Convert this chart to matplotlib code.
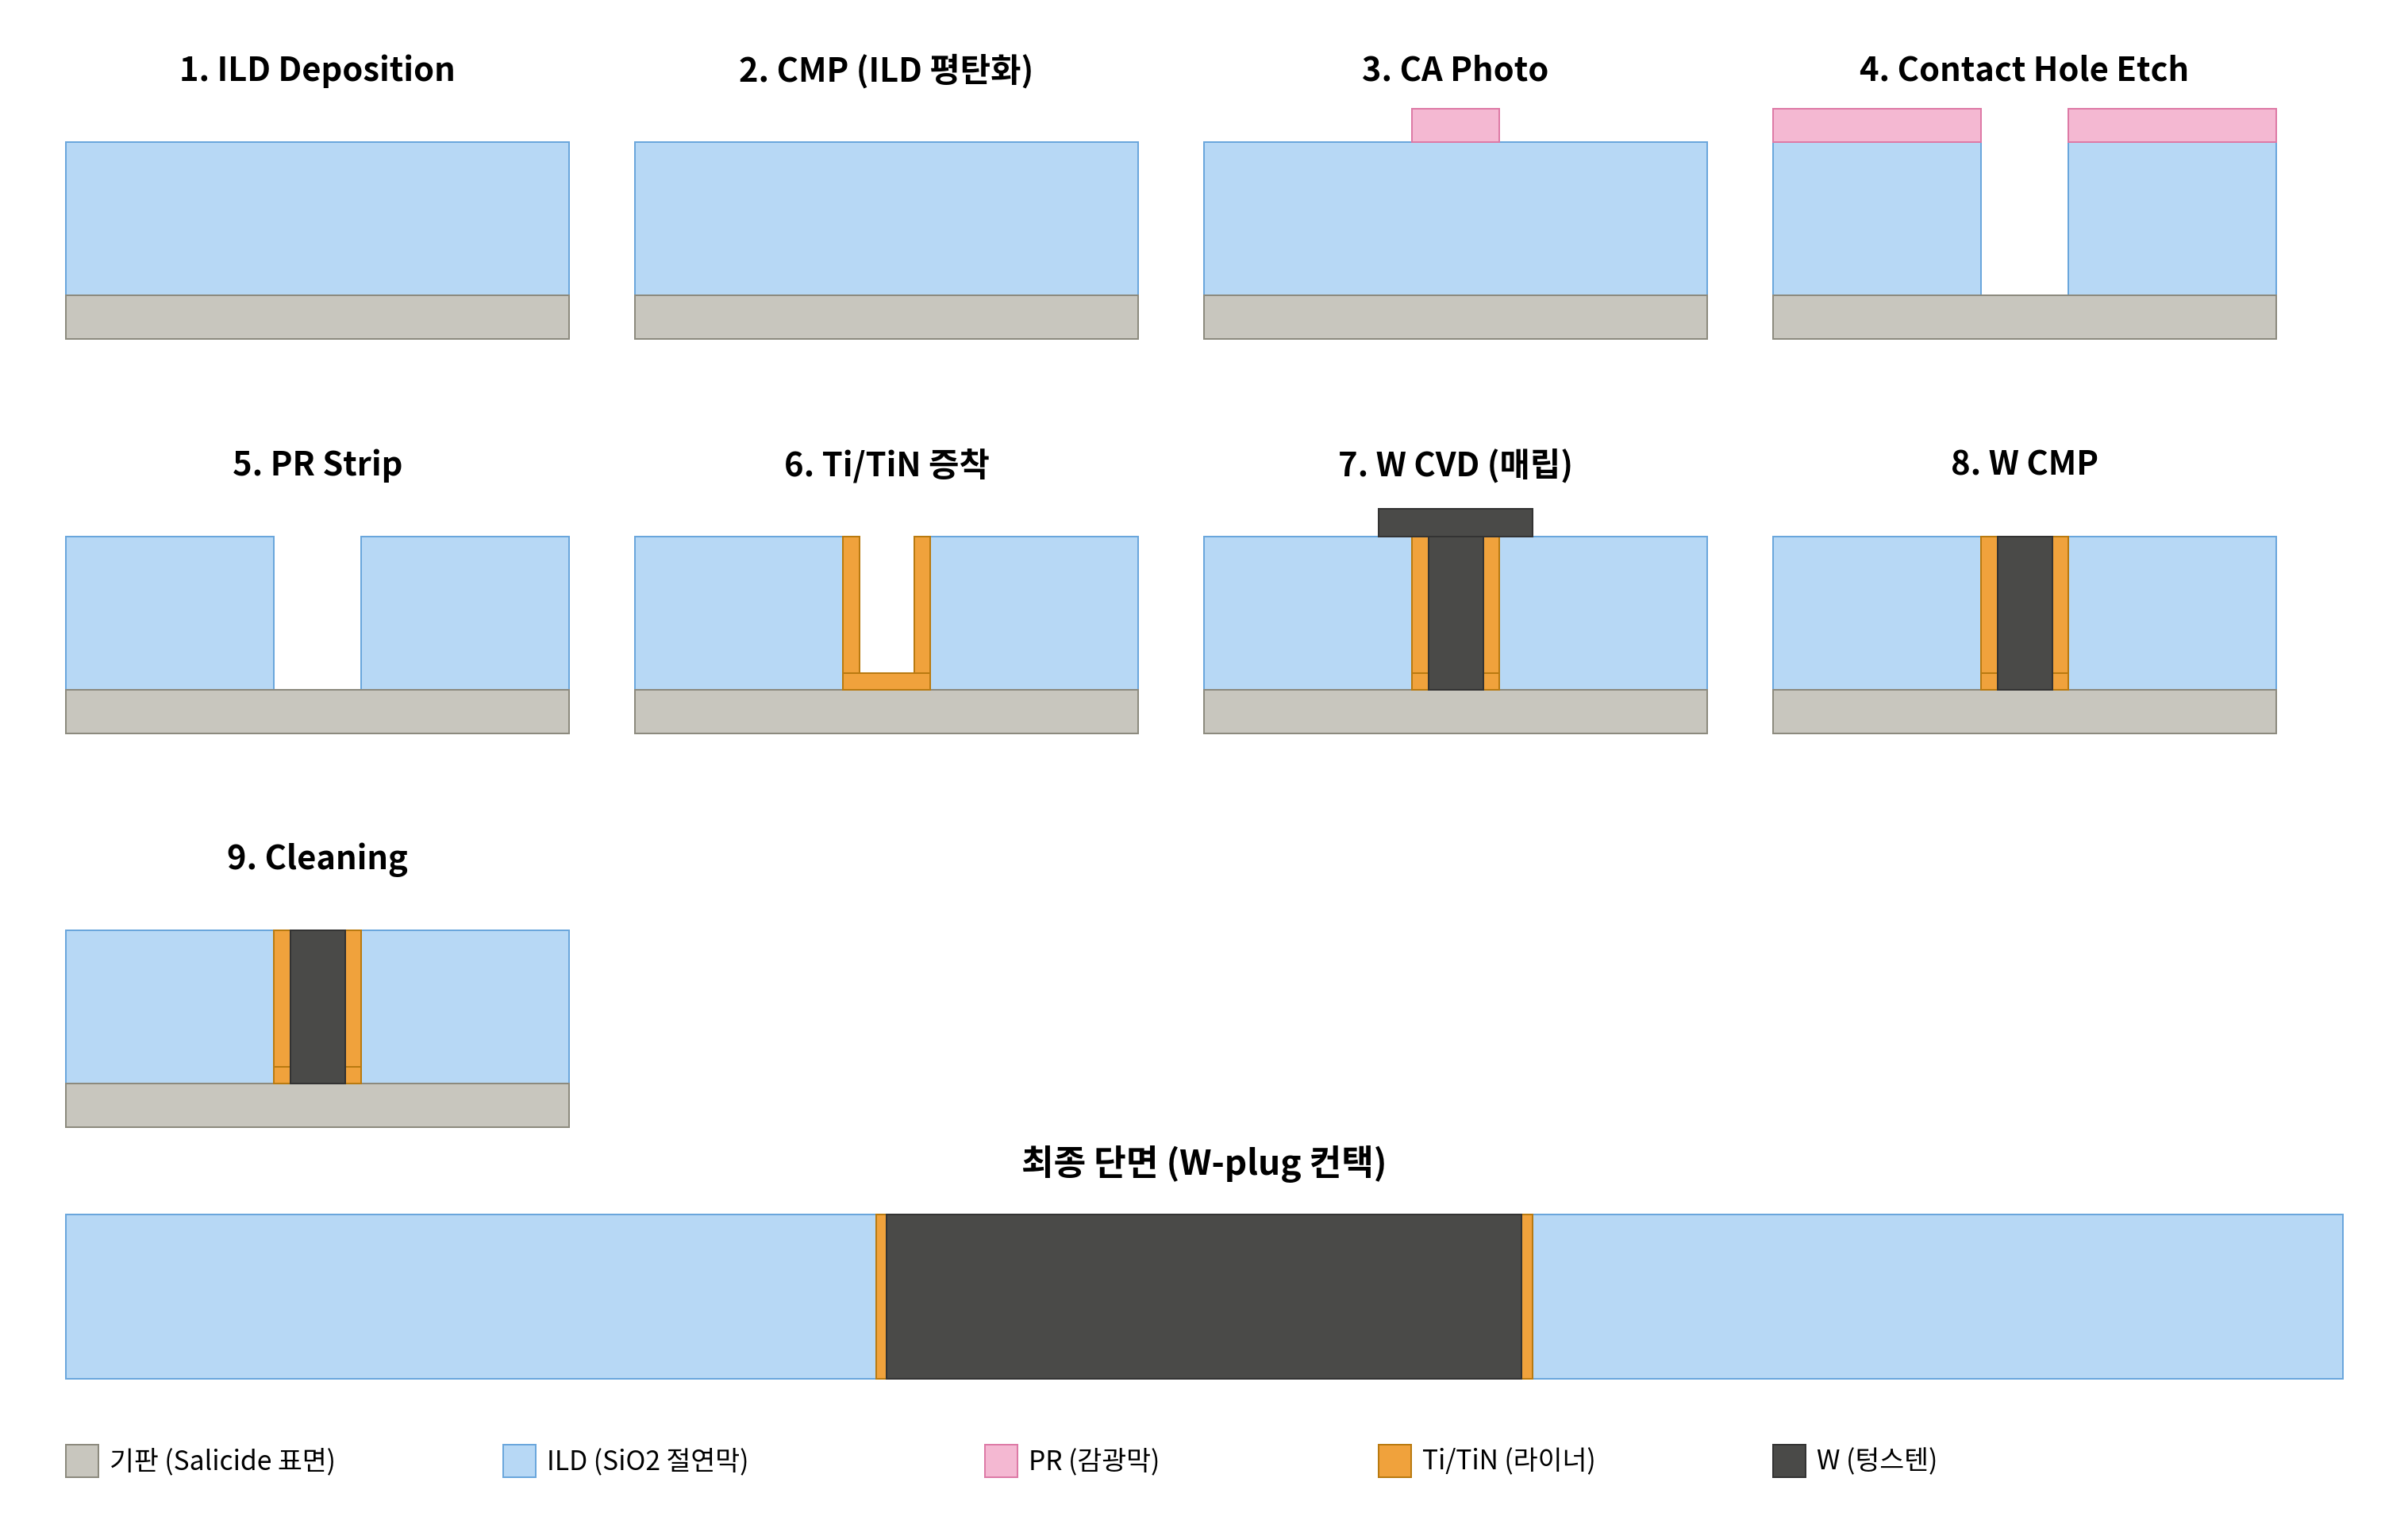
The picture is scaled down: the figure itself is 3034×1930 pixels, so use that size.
import matplotlib
matplotlib.use("Agg")
import matplotlib.pyplot as plt

plt.rcParams['font.family'] = ['Noto Sans CJK KR', 'DejaVu Sans']

FIG_W, FIG_H = 3034, 1931
DPI = 200

# ---- colours ----
COL = {
    'sub': ('#c8c6be', '#8c8a7e'),
    'ild': ('#b7d8f5', '#6aa6dc'),
    'pr':  ('#f4b8d2', '#dd7aa6'),
    'ti':  ('#f0a23c', '#b97a10'),
    'w':   ('#4a4a48', '#333333'),
}

# ---- geometry of one cross-section (in panel units) ----
PANEL_W = 634
SUB_H = 55
ILD_H = 193
PR_H = 42
HOLE_W = 110
LINER_W = 20.5
LINER_BOT = 21
OVER_W = 194
OVER_H = 35

cx = PANEL_W / 2
hl = cx - HOLE_W / 2
hr = cx + HOLE_W / 2

substrate = ('sub', 0, PANEL_W, -SUB_H, 0)
ild_full = ('ild', 0, PANEL_W, 0, ILD_H)
ild_left = ('ild', 0, hl, 0, ILD_H)
ild_right = ('ild', hr, PANEL_W, 0, ILD_H)
pr_mask = ('pr', hl, hr, ILD_H, ILD_H + PR_H)
pr_left = ('pr', 0, hl, ILD_H, ILD_H + PR_H)
pr_right = ('pr', hr, PANEL_W, ILD_H, ILD_H + PR_H)
liner_bot = ('ti', hl, hr, 0, LINER_BOT)
liner_left = ('ti', hl, hl + LINER_W, 0, ILD_H)
liner_right = ('ti', hr - LINER_W, hr, 0, ILD_H)
plug = ('w', hl + LINER_W, hr - LINER_W, 0, ILD_H)
over = ('w', cx - OVER_W / 2, cx + OVER_W / 2, ILD_H, ILD_H + OVER_H)

open_hole = [ild_left, ild_right, substrate]
liner = [liner_left, liner_right, liner_bot]

step_titles = [
    '1. ILD Deposition', '2. CMP (ILD 평탄화)', '3. CA Photo', '4. Contact Hole Etch',
    '5. PR Strip', '6. Ti/TiN 증착', '7. W CVD (매립)', '8. W CMP',
    '9. Cleaning',
]
step_layers = [
    [ild_full, substrate],
    [ild_full, substrate],
    [ild_full, substrate, pr_mask],
    open_hole + [pr_left, pr_right],
    open_hole,
    open_hole + liner,
    open_hole + liner + [plug, over],
    open_hole + liner + [plug],
    open_hole + liner + [plug],
]

# final section
FINAL_W = 2869
FINAL_H = 207
final_title = '최종 단면 (W-plug 컨택)'
final_layers = [
    ('ild', 0, 1020.5, 0, FINAL_H),
    ('ild', 1847.5, FINAL_W, 0, FINAL_H),
    ('ti', 1020.5, 1033.5, 0, FINAL_H),
    ('ti', 1834, 1847.5, 0, FINAL_H),
    ('w', 1033.5, 1834, 0, FINAL_H),
]

legend_labels = ['기판 (Salicide 표면)', 'ILD (SiO2 절연막)', 'PR (감광막)', 'Ti/TiN (라이너)', 'W (텅스텐)']
legend_keys = ['sub', 'ild', 'pr', 'ti', 'w']
legend_x = [83, 634, 1241, 1737, 2234]

# ---- layout (pixels) ----
col_x = [83, 800, 1517, 2234]
row_top = [180, 676.5, 1173]
TITLE_PT = 15.0
FINAL_TITLE_PT = 15.9
LEGEND_PT = 12.1
LW = 0.72

fig = plt.figure(figsize=(FIG_W / DPI, FIG_H / DPI), dpi=DPI, facecolor='white')


def make_ax(x, y_top, w, h):
    ax = fig.add_axes([x / FIG_W, 1 - (y_top + h) / FIG_H, w / FIG_W, h / FIG_H])
    ax.set_axis_off()
    return ax


def draw(ax, layers):
    for key, x0, x1, y0, y1 in layers:
        fc, ec = COL[key]
        ax.bar(x0, y1 - y0, width=x1 - x0, bottom=y0, align='edge',
               color=fc, edgecolor=ec, linewidth=LW, clip_on=False)


for i, (title, layers) in enumerate(zip(step_titles, step_layers)):
    r, c = divmod(i, 4)
    ax = make_ax(col_x[c], row_top[r], PANEL_W, ILD_H + SUB_H)
    ax.set_xlim(0, PANEL_W)
    ax.set_ylim(-SUB_H, ILD_H)
    draw(ax, layers)
    ax.text(cx, ILD_H + 90, title, ha='center', va='center', fontsize=TITLE_PT,
            fontweight='bold', color='black', clip_on=False)

ax = make_ax(83, 1531, FINAL_W, FINAL_H)
ax.set_xlim(0, FINAL_W)
ax.set_ylim(0, FINAL_H)
draw(ax, final_layers)
ax.text(FINAL_W / 2, FINAL_H + 64, final_title, ha='center', va='center', fontsize=FINAL_TITLE_PT,
        fontweight='bold', color='black', clip_on=False)

# legend
ax = make_ax(0, 1821, FIG_W, 41)
ax.set_xlim(0, FIG_W)
ax.set_ylim(0, 41)
for key, label, x in zip(legend_keys, legend_labels, legend_x):
    draw(ax, [(key, x, x + 41, 0, 41)])
    ax.text(x + 55, 20, label, ha='left', va='center', fontsize=LEGEND_PT, color='black')

fig.savefig('out.png', dpi=DPI, facecolor='white')
